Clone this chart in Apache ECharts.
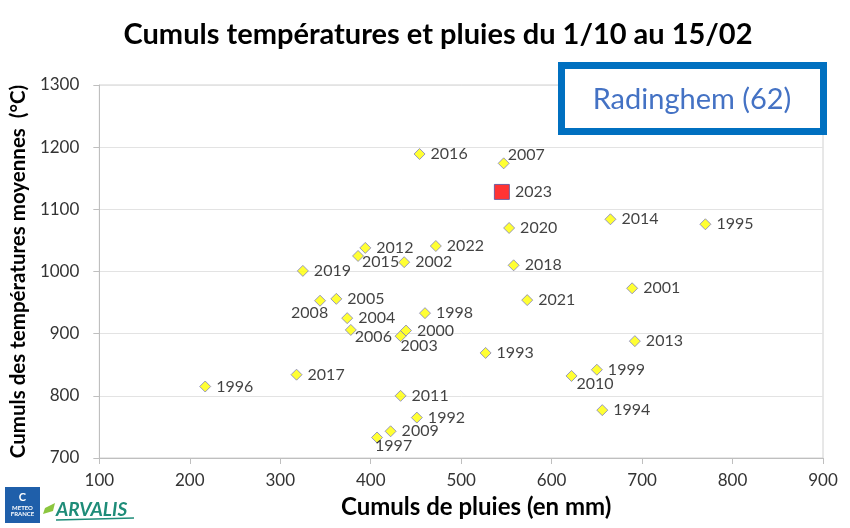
<!DOCTYPE html>
<html>
<head>
<meta charset="utf-8">
<script src="https://cdn.jsdelivr.net/npm/echarts@6/dist/echarts.min.js"></script>
<style>
html,body{margin:0;padding:0;background:#fff;}
#chart{width:850px;height:528px;}
</style>
</head>
<body>
<div id="chart"></div>
<script>
const years = [1992,1993,1994,1995,1996,1997,1998,1999,2000,2001,2002,2003,2004,2005,2006,2007,2008,2009,2010,2011,2012,2013,2014,2015,2016,2017,2018,2019,2020,2021,2022,2023];
const rain  = [451,527,656,770,217,407,460,650,439,689,437,433,374,362,378,547,344,422,622,433,394,692,665,386,454,318,558,325,553,573,472,545];
const temp  = [765,869,777,1076,815,733,933,842,905,973,1015,896,925,956,906,1174,953,743,832,800,1038,888,1084,1025,1189,834,1010,1001,1070,954,1041,1128];
const highlightYear = 2023;
const xTicks = [100,200,300,400,500,600,700,800,900];
const yTicks = [700,800,900,1000,1100,1200,1300];

// label placement tweaks (style only)
const labelOffsets = {2007:[-7,-8],2015:[-7,6],2008:[-40,12],2006:[-7,7],2003:[-11,10],2010:[-6,8],1997:[-13,8]};

const FONT = 'Lato, "Open Sans", sans-serif';
const base = [], hi = [];
years.forEach((y,i)=>{
  const item = {value:[rain[i], temp[i]], name:String(y)};
  if (labelOffsets[y]) item.label = {offset: labelOffsets[y]};
  if (y === highlightYear) hi.push(item); else base.push(item);
});

const chart = echarts.init(document.getElementById('chart'));
chart.setOption({
  animation:false,
  backgroundColor:'#fff',
  title:{
    text:'Cumuls températures et pluies du 1/10 au 15/02',
    left:433, textAlign:'center', top:15,
    textStyle:{fontFamily:FONT, fontWeight:'bold', fontSize:29, color:'#000'}
  },
  grid:{left:93, right:27, top:85, bottom:70, show:true, borderColor:'#D0D0D0', borderWidth:1},
  xAxis:{
    type:'value', min:xTicks[0], max:xTicks[xTicks.length-1], interval:100,
    name:'Cumuls de pluies (en mm)', nameLocation:'middle', nameGap:37,
    nameTextStyle:{fontFamily:FONT, fontWeight:'bold', fontSize:24, color:'#000', padding:[0,0,0,30]},
    axisLine:{show:true, lineStyle:{color:'#BFBFBF'}},
    axisTick:{show:true, length:6, lineStyle:{color:'#BFBFBF'}},
    axisLabel:{fontFamily:FONT, fontSize:17, color:'#333', margin:14, formatter:v=>String(v)},
    splitLine:{show:false}
  },
  yAxis:{
    type:'value', min:yTicks[0], max:yTicks[yTicks.length-1], interval:100,
    name:'Cumuls des températures moyennes  (°C)', nameLocation:'middle', nameGap:57,
    nameTextStyle:{fontFamily:FONT, fontWeight:'bold', fontSize:20.5, color:'#000'},
    axisLine:{show:true, lineStyle:{color:'#BFBFBF'}},
    axisTick:{show:true, length:6, lineStyle:{color:'#BFBFBF'}},
    axisLabel:{fontFamily:FONT, fontSize:17, color:'#333', margin:20, formatter:v=>String(v)},
    splitLine:{show:true, lineStyle:{color:'#E3E3E3'}}
  },
  series:[
    {
      type:'scatter', name:'Années', data:base, symbol:'diamond', symbolSize:11,
      itemStyle:{color:'#FFFF00', borderColor:'#8080C0', borderWidth:1},
      label:{show:true, position:'right', distance:5, formatter:p=>p.name,
             fontFamily:FONT, fontSize:16, color:'#111'}
    },
    {
      type:'scatter', name:String(highlightYear), data:hi, symbol:'rect', symbolSize:15,
      itemStyle:{color:'#FF0000', borderColor:'#5050A0', borderWidth:1},
      label:{show:true, position:'right', distance:5, formatter:p=>p.name,
             fontFamily:FONT, fontSize:16, color:'#111'}
    }
  ],
  graphic:[
    {type:'rect', shape:{x:561.5, y:65.5, width:262, height:66},
     style:{fill:'#fff', stroke:'#0070C0', lineWidth:7}, z:100},
    {type:'text', x:692, y:100, z:101,
     style:{text:'Radinghem (62)', fill:'#4472C4', font:'29px Lato, sans-serif', textAlign:'center', textVerticalAlign:'middle'}},
    {type:'rect', shape:{x:5, y:487, width:35, height:36}, style:{fill:'#1F5FAA'}, z:100},
    {type:'text', x:22.5, y:497, z:101,
     style:{text:'C', fill:'#fff', font:'bold 11px Lato, sans-serif', textAlign:'center', textVerticalAlign:'middle'}},
    {type:'text', x:22.5, y:508, z:101,
     style:{text:'METEO', fill:'#fff', font:'bold 6px Lato, sans-serif', textAlign:'center', textVerticalAlign:'middle'}},
    {type:'text', x:22.5, y:514, z:101,
     style:{text:'FRANCE', fill:'#fff', font:'bold 6px Lato, sans-serif', textAlign:'center', textVerticalAlign:'middle'}},
    {type:'polygon', shape:{points:[[45,508],[55,503],[53,511],[43,514]]}, style:{fill:'#8CC63F'}, z:100},
    {type:'text', x:56, y:510, z:101,
     style:{text:'ARVALIS', fill:'#1E8C78', font:'bold italic 19px Lato, sans-serif', textAlign:'left', textVerticalAlign:'middle'}},
    {type:'line', shape:{x1:56, y1:520, x2:134, y2:518}, style:{stroke:'#1E8C78', lineWidth:1.5}, z:100}
  ]
});
</script>
</body>
</html>
